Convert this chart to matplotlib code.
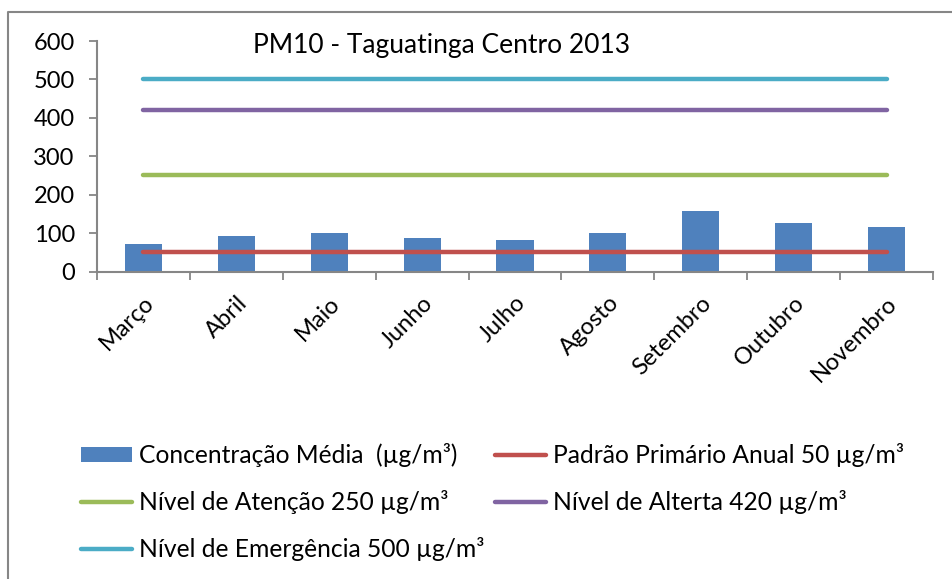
import matplotlib.pyplot as plt
from matplotlib.patches import Patch
from matplotlib.lines import Line2D

plt.rcParams["font.family"] = ["Lato", "DejaVu Sans"]

# Data
months = ["Março", "Abril", "Maio", "Junho", "Julho", "Agosto",
          "Setembro", "Outubro", "Novembro"]
concentracao = [72, 93, 99, 86, 83, 101, 158, 127, 117]
padrao_primario = [50] * len(months)
nivel_atencao = [250] * len(months)
nivel_alerta = [420] * len(months)
nivel_emergencia = [500] * len(months)

fig = plt.figure(figsize=(9.53, 5.79), dpi=100)
ax = fig.add_axes([97 / 953, 1 - 271.5 / 579, 836 / 953, 230.5 / 579])

x = list(range(len(months)))
ax.bar(x, concentracao, width=0.4, color="#4F81BD", zorder=2)

lw = 3.2
ax.plot(x, padrao_primario, color="#C0504D", lw=lw, solid_capstyle="round", zorder=3)
ax.plot(x, nivel_atencao, color="#9BBB59", lw=lw, solid_capstyle="round", zorder=3)
ax.plot(x, nivel_alerta, color="#8064A2", lw=lw, solid_capstyle="round", zorder=3)
ax.plot(x, nivel_emergencia, color="#4BACC6", lw=lw, solid_capstyle="round", zorder=3)

ax.set_xlim(-0.5, len(months) - 0.5)
ax.set_ylim(0, 600)
ax.set_yticks(range(0, 601, 100))

# ticks on category boundaries, labels at category centres
ax.set_xticks([i - 0.5 for i in range(len(months) + 1)])
ax.set_xticklabels([])
ax.set_xticks(x, minor=True)
ax.set_xticklabels(months, minor=True, rotation=45, ha="right", va="top",
                   rotation_mode="anchor", fontsize=17)
ax.tick_params(axis="x", which="minor", length=0, pad=15)
ax.tick_params(axis="x", which="major", length=6, width=1.3, color="#868686", direction="out")
ax.tick_params(axis="y", length=6, width=1.3, color="#868686", labelsize=17, pad=10)

for s in ["top", "right"]:
    ax.spines[s].set_visible(False)
for s in ["left", "bottom"]:
    ax.spines[s].set_color("#868686")
    ax.spines[s].set_linewidth(1.5)

ax.text(0.412, 0.98, "PM10 - Taguatinga Centro 2013", transform=ax.transAxes,
        ha="center", va="center", fontsize=19)

handles = [
    Patch(facecolor="#4F81BD"),
    Line2D([], [], color="#9BBB59", lw=lw, solid_capstyle="round"),
    Line2D([], [], color="#4BACC6", lw=lw, solid_capstyle="round"),
    Line2D([], [], color="#C0504D", lw=lw, solid_capstyle="round"),
    Line2D([], [], color="#8064A2", lw=lw, solid_capstyle="round"),
]
labels = [
    "Concentração Média  (µg/m³)",
    "Nível de Atenção 250 µg/m³",
    "Nível de Emergência 500 µg/m³",
    "Padrão Primário Anual 50 µg/m³",
    "Nível de Alterta 420 µg/m³",
]
fig.legend(handles, labels, ncol=2, loc="upper left", bbox_to_anchor=(81 / 953, 1 - 443 / 579),
           frameon=False, fontsize=17.7, handlelength=2.07, handleheight=0.6,
           handletextpad=0.28, columnspacing=0.45, labelspacing=0.94,
           borderaxespad=0, borderpad=0)

# outer chart-area border (only top and left visible)
fig.add_artist(Line2D([8 / 953, 8 / 953, 1], [0, 1 - 12 / 579, 1 - 12 / 579],
                      transform=fig.transFigure, color="#868686", lw=1.5))

fig.savefig("out.png", dpi=100)
